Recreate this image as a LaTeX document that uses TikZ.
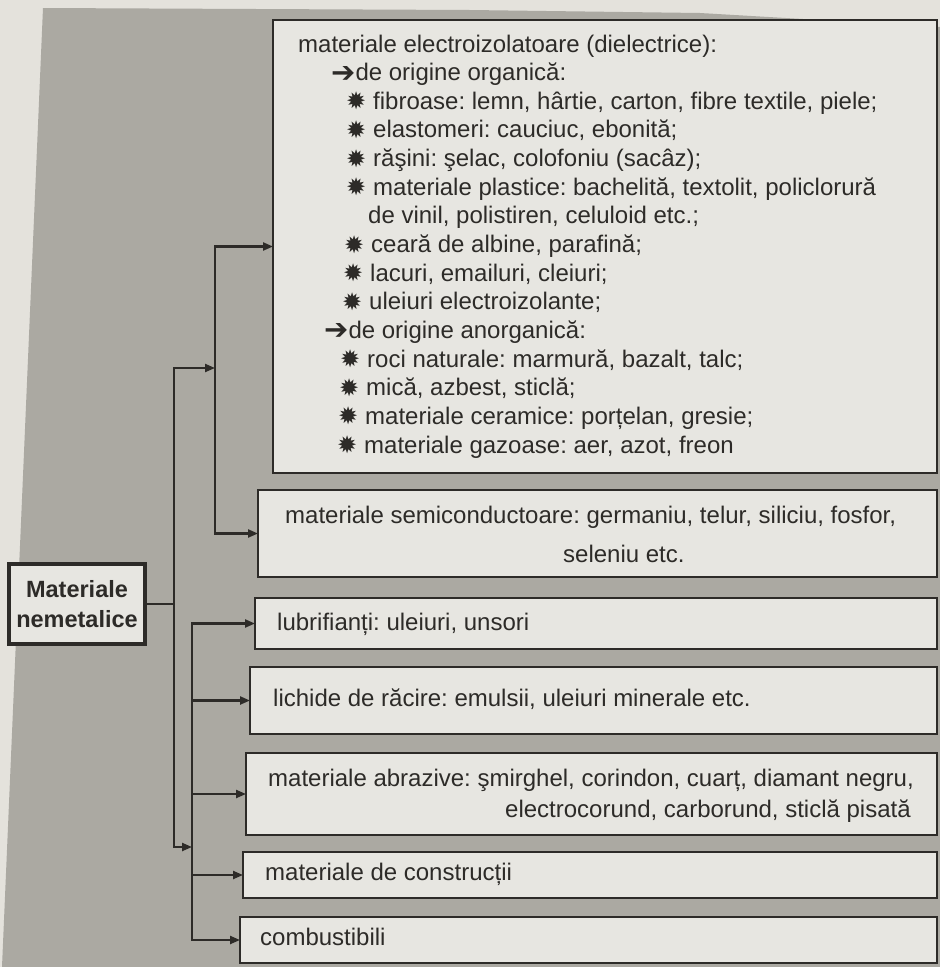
\documentclass[tikz,border=0pt]{standalone}
\usepackage{fontspec}
\setmainfont{Liberation Sans}
\newfontfamily\symfont{DejaVu Sans}
\usetikzlibrary{arrows.meta}
\definecolor{pagec}{RGB}{228,226,220}
\definecolor{grayc}{RGB}{171,169,162}
\definecolor{boxc}{RGB}{231,230,225}
\definecolor{inkc}{RGB}{45,43,40}
\newcommand{\bst}{\makebox[27pt][l]{\raisebox{-0.5pt}{\symfont\fontsize{24}{24}\selectfont ✹}}}
\newcommand{\barr}{{\raisebox{-1.5pt}{\symfont\fontsize{29}{29}\selectfont ➔}}}
\begin{document}
\frenchspacing
\begin{tikzpicture}[x=1pt,y=-1pt,
  box/.style={draw=inkc, line width=2.3pt, fill=boxc, anchor=north west, inner sep=0pt, outer sep=0pt},
  txt/.style={anchor=base west, inner sep=0pt, text=inkc, font=\fontsize{24}{29}\selectfont},
  wire/.style={draw=inkc, line width=2.2pt},
  arr/.style={wire, -{Triangle[length=10pt,width=8pt]}}]
\useasboundingbox (0,0) rectangle (940,967);
\fill[pagec] (0,0) rectangle (940,967);
\fill[grayc] (43,8) -- (470,10) -- (700,13) -- (940,27) -- (940,967) -- (2,967) -- cycle;

% boxes
\node[box, minimum width=664pt, minimum height=453pt] (b1) at (273,20) {};
\node[box, minimum width=679pt, minimum height=87pt] (b2) at (258,490) {};
\node[box, minimum width=682pt, minimum height=51pt] (b3) at (255,598) {};
\node[box, minimum width=687pt, minimum height=67pt] (b4) at (250,667) {};
\node[box, minimum width=691pt, minimum height=82pt] (b5) at (246,753) {};
\node[box, minimum width=694pt, minimum height=46pt] (b6) at (243,852) {};
\node[box, minimum width=697pt, minimum height=46pt] (b7) at (240,917) {};

\node[draw=inkc, line width=4pt, fill=boxc, minimum width=136pt, minimum height=80pt,
  align=center, inner sep=0pt, text=inkc, font=\bfseries\fontsize{23.5}{30}\selectfont] (nem) at (77,604) {Materiale\\nemetalice};

% texts of box 1
\node[txt] (l1) at (298,52) {materiale electroizolatoare (dielectrice):};
\node[txt] (l2) at (331,80.6) {\barr de origine organică:};
\node[txt] (l3) at (346,109.3) {\bst fibroase: lemn, hârtie, carton, fibre textile, piele;};
\node[txt] (l4) at (346,137.9) {\bst elastomeri: cauciuc, ebonită;};
\node[txt] (l5) at (346,166.6) {\bst răşini: şelac, colofoniu (sacâz);};
\node[txt] (l6) at (346,195.2) {\bst materiale plastice: bachelită, textolit, policlorură};
\node[txt] (l7) at (368,223.8) {de vinil, polistiren, celuloid etc.;};
\node[txt] (l8) at (344,252.5) {\bst ceară de albine, parafină;};
\node[txt] (l9) at (343,281.1) {\bst lacuri, emailuri, cleiuri;};
\node[txt] (l10) at (342,309.8) {\bst uleiuri electroizolante;};
\node[txt] (l11) at (324,338.4) {\barr de origine anorganică:};
\node[txt] (l12) at (340,367.0) {\bst roci naturale: marmură, bazalt, talc;};
\node[txt] (l13) at (339,395.7) {\bst mică, azbest, sticlă;};
\node[txt] (l14) at (338,424.3) {\bst materiale ceramice: porțelan, gresie;};
\node[txt] (l15) at (337,453.0) {\bst materiale gazoase: aer, azot, freon};

% other texts
\node[txt] (s1) at (285,523) {materiale semiconductoare: germaniu, telur, siliciu, fosfor,};
\node[txt] (s2) at (563,562) {seleniu etc.};
\node[txt] (lu) at (277,630) {lubrifianți: uleiuri, unsori};
\node[txt] (li) at (273,706) {lichide de răcire: emulsii, uleiuri minerale etc.};
\node[txt] (a1) at (268,786) {materiale abrazive: şmirghel, corindon, cuarț, diamant negru,};
\node[txt] (a2) at (505,817) {electrocorund, carborund, sticlă pisată};
\node[txt] (co) at (265,880) {materiale de construcții};
\node[txt] (cb) at (260,945) {combustibili};

% connectors
\draw[wire] (nem.east) -- ++(27,0) coordinate (ob);
\coordinate (ub) at (215,368);
\coordinate (lb) at (192,847);
\draw[arr] (ob) |- (ub);
\draw[arr] (ob) |- (lb);
\draw[arr] (ub) |- (b1.west);
\draw[arr] (ub) |- (b2.west);
\draw[arr] (lb) |- (b3.west);
\draw[arr] (lb) |- (b7.west);
\foreach \b in {b4,b5,b6} \draw[arr] (lb |- \b.west) -- (\b.west);
\end{tikzpicture}
\end{document}
